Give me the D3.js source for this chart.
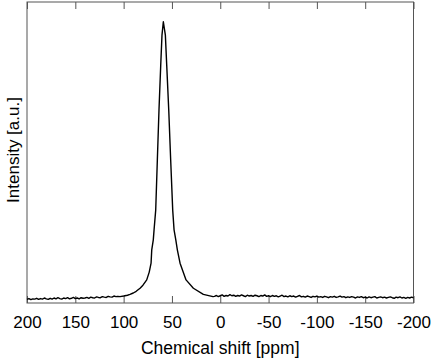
<!DOCTYPE html>
<html>
<head>
<meta charset="utf-8">
<script src="https://cdn.jsdelivr.net/npm/d3@7"></script>
<style>
  body { margin: 0; background: #fff; }
  svg text { font-family: "Liberation Sans", Arial, sans-serif; }
</style>
</head>
<body>
<div class="chart"></div>
<script>
// x tick values (ppm), axis runs from 200 down to -200
var xTicks = [200, 150, 100, 50, 0, -50, -100, -150, -200];

// flat baseline left of the peak, 200 -> 106 ppm, every 2 ppm
var leftShift = d3.range(200, 105, -2);
var leftInt = [0.002, 0.005, 0.001, 0.004, 0.003, 0.006, 0.002, 0.005, 0.003, 0.007,
               0.004, 0.002, 0.006, 0.003, 0.007, 0.004, 0.008, 0.005, 0.003, 0.007,
               0.005, 0.008, 0.004, 0.006, 0.009, 0.005, 0.007, 0.004, 0.008, 0.006,
               0.007, 0.009, 0.006, 0.010, 0.008, 0.007, 0.011, 0.009, 0.008, 0.012,
               0.010, 0.009, 0.013, 0.011, 0.010, 0.014, 0.012, 0.013];

// the peak itself
var peakShift = [103.7, 100, 96, 93.4, 90, 87, 83, 80, 76.1, 73.5, 71.6, 70.9, 69.3, 68.5, 66.8, 65.1, 63.4, 61.6, 60.3,
                 58.9, 56.8, 55.4, 53.3, 51.3, 49.2, 47.8, 46.0, 44.4, 41.6, 35.4, 27.8, 17.5, 7.5];
var peakInt = [0.012, 0.014, 0.017, 0.020, 0.025, 0.031, 0.042, 0.053, 0.072, 0.100, 0.132, 0.180, 0.216, 0.252, 0.323, 0.503, 0.683, 0.844, 0.952,
               1.000, 0.952, 0.844, 0.683, 0.503, 0.323, 0.252, 0.216, 0.180, 0.132, 0.072, 0.042, 0.020, 0.012];

// baseline right of the peak, 6 -> -200 ppm, every 2 ppm
var rightShift = d3.range(6, -201, -2);
var rightInt = [0.013, 0.016, 0.012, 0.015, 0.018, 0.013, 0.016, 0.014, 0.019, 0.015,
                0.017, 0.013, 0.016, 0.014, 0.018, 0.015, 0.012, 0.017, 0.014, 0.016,
                0.013, 0.017, 0.015, 0.012, 0.016, 0.014, 0.018, 0.013, 0.015, 0.012,
                0.016, 0.013, 0.015, 0.011, 0.014, 0.017, 0.012, 0.014, 0.011, 0.015,
                0.012, 0.014, 0.010, 0.013, 0.016, 0.011, 0.013, 0.010, 0.014, 0.012,
                0.009, 0.013, 0.011, 0.014, 0.010, 0.012, 0.009, 0.013, 0.011, 0.008,
                0.012, 0.010, 0.013, 0.009, 0.011, 0.014, 0.010, 0.012, 0.008, 0.011,
                0.009, 0.012, 0.010, 0.007, 0.011, 0.009, 0.012, 0.008, 0.010, 0.007,
                0.011, 0.008, 0.010, 0.012, 0.007, 0.009, 0.011, 0.008, 0.010, 0.007,
                0.009, 0.011, 0.008, 0.006, 0.010, 0.008, 0.011, 0.007, 0.009, 0.006,
                0.009, 0.007, 0.010, 0.008];

var spectrum = [];
leftShift.forEach(function(s, i){ spectrum.push([s, leftInt[i]]); });
peakShift.forEach(function(s, i){ spectrum.push([s, peakInt[i]]); });
rightShift.forEach(function(s, i){ spectrum.push([s, rightInt[i]]); });

var W = 431, H = 362;
var plotL = 27, plotR = 413.5, plotT = 2, plotB = 303;

var svg = d3.select(".chart")
    .append("svg")
    .attr("width", W)
    .attr("height", H);

var x = d3.scaleLinear()
    .domain([200, -200])
    .range([plotL, plotR]);

var y = d3.scaleLinear()
    .domain([-0.011, 1.071])
    .range([plotB, plotT]);

// frame
svg.append("rect")
    .attr("x", plotL)
    .attr("y", plotT)
    .attr("width", plotR - plotL)
    .attr("height", plotB - plotT)
    .attr("fill", "none")
    .attr("stroke", "#555")
    .attr("stroke-width", 1);

var xAxis = d3.axisBottom(x)
    .tickValues(xTicks)
    .tickSizeInner(-7)
    .tickSizeOuter(0)
    .tickPadding(13)
    .tickFormat(function(d){ return String(d); });

var gx = svg.append("g")
    .attr("transform", "translate(0," + plotB + ")")
    .call(xAxis);
gx.select(".domain").remove();
gx.selectAll("line").attr("stroke", "#555");
gx.selectAll("text")
    .attr("font-size", 17)
    .attr("fill", "#000")
    .style("font-family", "'Liberation Sans', Arial, sans-serif");

// mirrored ticks on top
var gTop = svg.append("g")
    .attr("transform", "translate(0," + plotT + ")")
    .call(d3.axisTop(x).tickValues(xTicks).tickSizeInner(-7).tickSizeOuter(0).tickFormat(""));
gTop.select(".domain").remove();
gTop.selectAll("line").attr("stroke", "#555");

var line = d3.line()
    .x(function(d){ return x(d[0]); })
    .y(function(d){ return y(d[1]); });

svg.append("path")
    .datum(spectrum)
    .attr("d", line)
    .attr("fill", "none")
    .attr("stroke", "#000")
    .attr("stroke-width", 1.4)
    .attr("stroke-linejoin", "round");

svg.append("text")
    .attr("x", (plotL + plotR) / 2)
    .attr("y", 354)
    .attr("text-anchor", "middle")
    .attr("font-size", 17.5)
    .text("Chemical shift [ppm]");

svg.append("text")
    .attr("transform", "translate(13,150) rotate(-90)")
    .attr("text-anchor", "middle")
    .attr("dy", ".35em")
    .attr("font-size", 17)
    .text("Intensity [a.u.]");
</script>
</body>
</html>
